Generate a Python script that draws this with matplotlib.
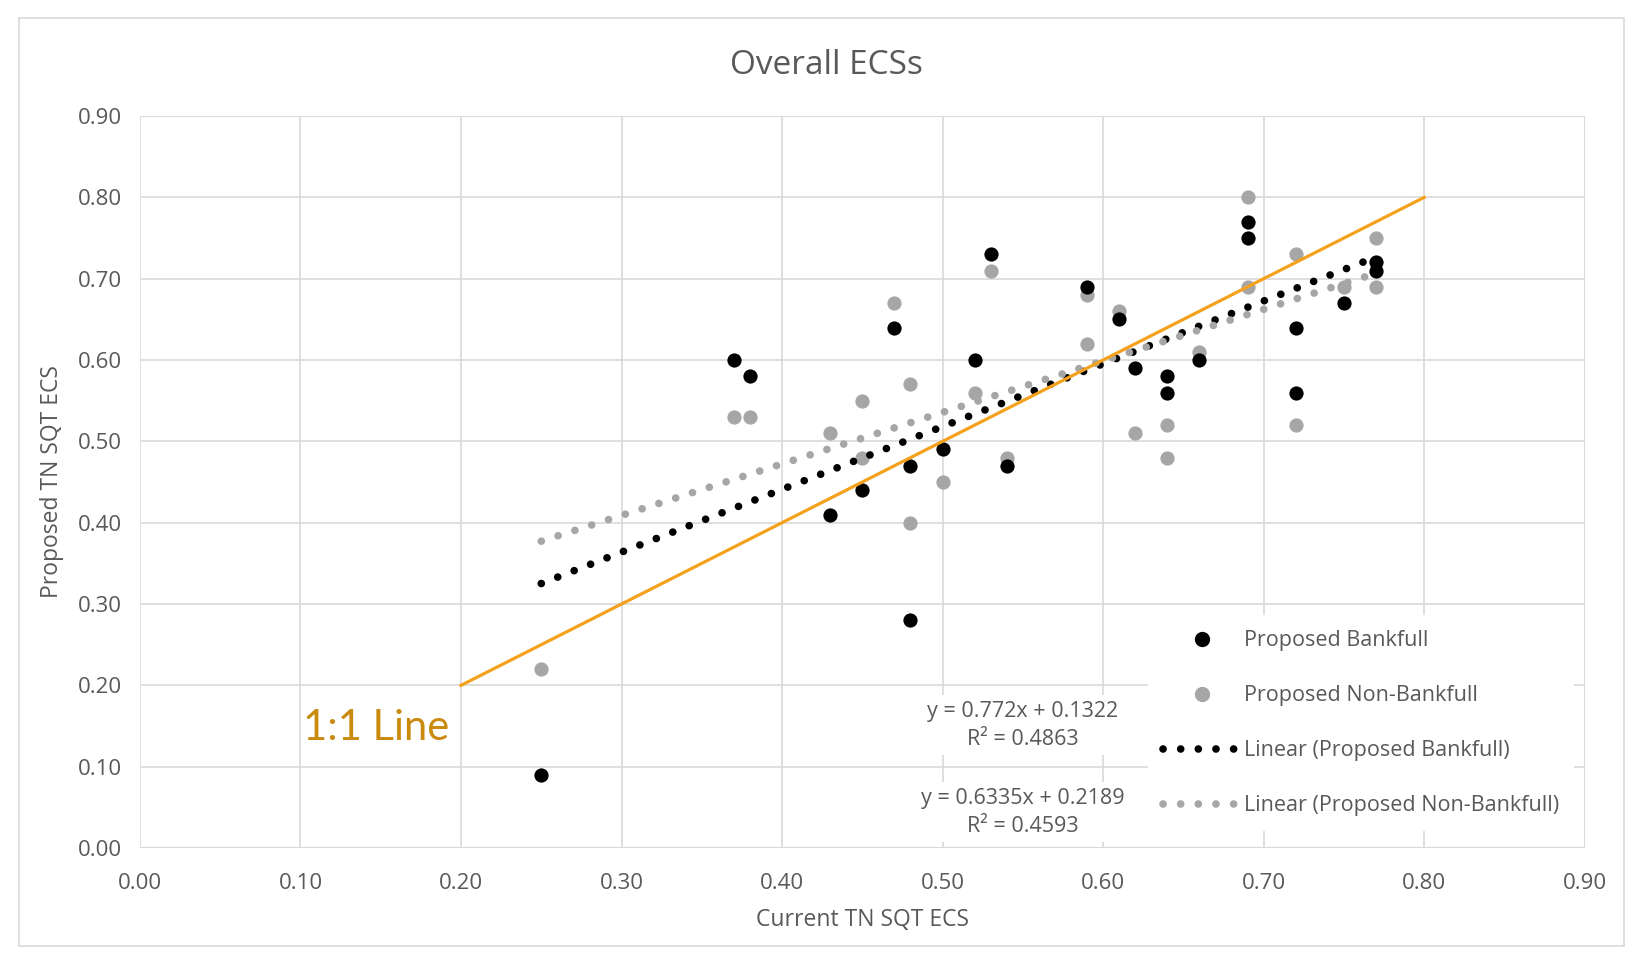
import matplotlib.pyplot as plt
import numpy as np
from matplotlib.lines import Line2D
from matplotlib.patches import Rectangle

plt.rcParams['font.family'] = ['Open Sans', 'DejaVu Sans']

# current ECS (x) and proposed ECS (y)
bank_x = [0.25, 0.37, 0.38, 0.43, 0.45, 0.47, 0.48, 0.48, 0.50, 0.52, 0.53, 0.54,
          0.59, 0.61, 0.62, 0.64, 0.64, 0.66, 0.69, 0.69, 0.72, 0.72, 0.75, 0.77, 0.77]
bank_y = [0.09, 0.60, 0.58, 0.41, 0.44, 0.64, 0.47, 0.28, 0.49, 0.60, 0.73, 0.47,
          0.69, 0.65, 0.59, 0.58, 0.56, 0.60, 0.77, 0.75, 0.64, 0.56, 0.67, 0.72, 0.71]
nonbank_x = [0.25, 0.37, 0.38, 0.43, 0.45, 0.45, 0.47, 0.48, 0.48, 0.50, 0.52, 0.53, 0.54,
             0.59, 0.59, 0.61, 0.62, 0.64, 0.64, 0.66, 0.69, 0.69, 0.72, 0.72, 0.75, 0.77, 0.77]
nonbank_y = [0.22, 0.53, 0.53, 0.51, 0.55, 0.48, 0.67, 0.57, 0.40, 0.45, 0.56, 0.71, 0.48,
             0.68, 0.62, 0.66, 0.51, 0.52, 0.48, 0.61, 0.80, 0.69, 0.73, 0.52, 0.69, 0.75, 0.69]

# trendline coefficients shown on chart
bank_fit = (0.772, 0.1322, 0.4863)
nonbank_fit = (0.6335, 0.2189, 0.4593)
one_to_one = [0.20, 0.80]

ticks = np.arange(0, 0.91, 0.1)
txt = '#595959'
dots = (0, (0.01, 2.3))

fig = plt.figure(figsize=(16.27, 9.63), dpi=100)
fig.patches.append(Rectangle((19 / 1627, 17 / 963), 1605 / 1627, 928 / 963,
                             transform=fig.transFigure, fill=False,
                             edgecolor='#D9D9D9', linewidth=1.2))
ax = fig.add_axes([0.086, 0.1194, 0.888, 0.7601])

ax.set_xlim(0, 0.9)
ax.set_ylim(0, 0.9)
ax.set_xticks(ticks)
ax.set_yticks(ticks)
ax.set_xticklabels([f'{t:.2f}' for t in ticks])
ax.set_yticklabels([f'{t:.2f}' for t in ticks])
ax.tick_params(length=0, labelsize=16, colors=txt)
ax.tick_params(axis='x', pad=18)
ax.tick_params(axis='y', pad=13)
ax.grid(True, color='#D9D9D9', linewidth=1.2, zorder=0)
for s in ax.spines.values():
    s.set_visible(False)
ax.axvline(0.9, color='#D9D9D9', linewidth=1.2, zorder=0)
ax.axhline(0.9, color='#D9D9D9', linewidth=1.2, zorder=0)
ax.axhline(0, color='#D9D9D9', linewidth=1.5, zorder=0)
ax.set_axisbelow(True)

ax.scatter(bank_x, bank_y, s=105, color='black', zorder=4, linewidths=0)
ax.scatter(nonbank_x, nonbank_y, s=105, color='#A6A6A6', zorder=3, linewidths=0)

xs = np.array([min(bank_x), max(bank_x)])
ax.plot(xs, bank_fit[0] * xs + bank_fit[1], color='black', lw=5.5,
        linestyle=dots, dash_capstyle='round', zorder=5)
xs2 = np.array([min(nonbank_x), max(nonbank_x)])
ax.plot(xs2, nonbank_fit[0] * xs2 + nonbank_fit[1], color='#A6A6A6', lw=5.5,
        linestyle=dots, dash_capstyle='round', zorder=5)

ax.plot(one_to_one, one_to_one, color='#F4A11D', lw=2.3, zorder=6)
ax.text(0.147, 0.147, '1:1 Line', color='#C98A0E', fontsize=30,
        ha='center', va='center', family=['Lato', 'DejaVu Sans'])

fig.text(0.5077, 0.932, 'Overall ECSs', fontsize=24, color=txt,
         ha='center', va='center')
ax.set_xlabel('Current TN SQT ECS', fontsize=16.5, color=txt, labelpad=10)
ax.set_ylabel('Proposed TN SQT ECS', fontsize=16.5, color=txt, labelpad=10)

box = dict(facecolor='white', edgecolor='none', pad=4)
ax.text(0.55, 0.151, f'y = {bank_fit[0]}x + {bank_fit[1]}\nR² = {bank_fit[2]}',
        fontsize=15.5, color=txt, ha='center', va='center', bbox=box, zorder=7,
        linespacing=1.45)
ax.text(0.55, 0.044, f'y = {nonbank_fit[0]}x + {nonbank_fit[1]}\nR² = {nonbank_fit[2]}',
        fontsize=15.5, color=txt, ha='center', va='center', bbox=box, zorder=7,
        linespacing=1.45)

handles = [
    Line2D([], [], marker='o', color='black', linestyle='none', markersize=10),
    Line2D([], [], marker='o', color='#A6A6A6', linestyle='none', markersize=10),
    Line2D([], [], color='black', lw=5.5, linestyle=dots, dash_capstyle='round'),
    Line2D([], [], color='#A6A6A6', lw=5.5, linestyle=dots, dash_capstyle='round'),
]
labels = ['Proposed Bankfull', 'Proposed Non-Bankfull',
          'Linear (Proposed Bankfull)', 'Linear (Proposed Non-Bankfull)']
leg = ax.legend(handles, labels, loc='lower right', bbox_to_anchor=(1.0, 0.008),
                frameon=True, fontsize=15.5, labelspacing=1.58, handlelength=3.6,
                handletextpad=0.15, borderpad=0.7, labelcolor=txt)
leg.get_frame().set_edgecolor('none')
leg.get_frame().set_facecolor('white')
leg.get_frame().set_alpha(1)
leg.set_zorder(8)

fig.savefig('out.png', dpi=100)
